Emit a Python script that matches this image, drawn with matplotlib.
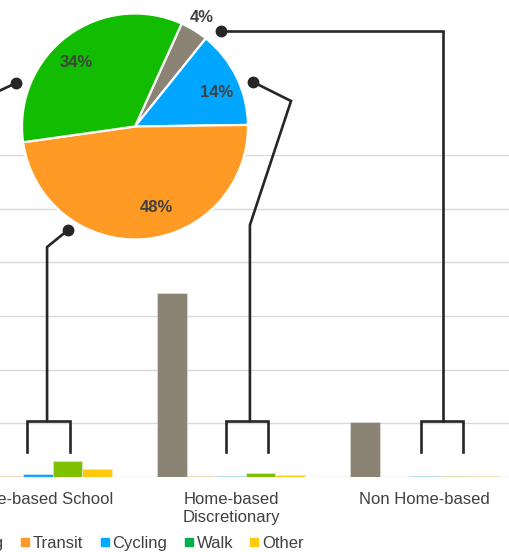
import matplotlib
matplotlib.use('Agg')
import matplotlib.pyplot as plt
from matplotlib.lines import Line2D
import numpy as np

plt.rcParams['font.family'] = ['Liberation Sans', 'DejaVu Sans']

# ---------------- data ----------------
categories = ["Home-based School", "Home-based\nDiscretionary", "Non Home-based"]
modes = ["Driving", "Transit", "Cycling", "Walk", "Other"]
driving = [20.0, 34.3, 10.2]
transit = [0.2, 0.15, 0.0]
cycling = [0.55, 0.15, 0.12]
walk = [2.9, 0.8, 0.12]
other = [1.45, 0.3, 0.12]

pie_modes = ["Driving", "Cycling", "Transit", "Walk"]
pie_shares = [4, 14, 48, 34]

# ---------------- styles ----------------
bar_colors = {"Driving": "#8B8374", "Transit": "#FF9A2A", "Cycling": "#00AAFF",
              "Walk": "#7DC100", "Other": "#FFC90E"}
legend_colors = {"Driving": "#8B8374", "Transit": "#FF9A2A", "Cycling": "#00AAFF",
                 "Walk": "#00B050", "Other": "#FFC90E"}
pie_colors = {"Driving": "#8B8374", "Cycling": "#00A6FF", "Transit": "#FF9A25",
              "Walk": "#12BC00"}
text_color = "#404040"
line_color = "#262626"
grid_color = "#D9D9D9"

W, H = 509, 552
fig = plt.figure(figsize=(W / 100, H / 100), dpi=100)

# ---------------- bar chart ----------------
ax = fig.add_axes([0, 75 / H, 1, 322 / H])
ax.set_xlim(-38 / 193, 471 / 193)
ax.set_ylim(0, 60)
x = np.arange(len(categories))
w = 29.5 / 193
series = [driving, transit, cycling, walk, other]
for k, (m, vals) in enumerate(zip(modes, series)):
    ax.bar(x + (k - 2) * w, vals, width=w, color=bar_colors[m],
           edgecolor="#E8E6E2", linewidth=0.4, zorder=3)

ax.set_yticks(np.arange(0, 61, 10))
ax.yaxis.grid(True, color=grid_color, linewidth=1.0, zorder=0)
ax.tick_params(axis='y', left=False, labelleft=False)
ax.set_xticks(x)
ax.set_xticklabels(categories, fontsize=12, color=text_color, linespacing=1.3)
ax.tick_params(axis='x', length=0, pad=10.5)
for s in ax.spines.values():
    s.set_visible(False)

# ---------------- connectors (bar data coordinates) ----------------
lw = 1.9
leg_bottom, bar_top = 4.66, 10.43
connectors = [
    # (path from pie dot to stem, bracket left, bracket right)
    ([(-0.114, 73.4), (-0.30, 70.3)], None, None),
    ([(0.155, 46.0), (0.047, 42.85), (0.047, bar_top)], -0.057, 0.166),
    ([(1.114, 73.6), (1.311, 70.06), (1.098, 46.95), (1.098, bar_top)], 0.974, 1.192),
    ([(0.948, 83.1), (2.098, 83.1), (2.098, bar_top)], 1.984, 2.202),
]
for path, bl, br in connectors:
    px, py = zip(*path)
    ax.plot(px, py, color=line_color, lw=lw, clip_on=False, zorder=5,
            solid_joinstyle='miter')
    ax.plot([px[0]], [py[0]], 'o', color=line_color, ms=7.5, clip_on=False, zorder=6)
    if bl is not None:
        ax.plot([bl, bl, br, br], [leg_bottom, bar_top, bar_top, leg_bottom],
                color=line_color, lw=lw, clip_on=False, zorder=5,
                solid_joinstyle='miter')

# ---------------- pie ----------------
R = 113
cx, cy = 135, 126.5
side = 2.5 * R
axp = fig.add_axes([(cx - side / 2) / W, (H - cy - side / 2) / H, side / W, side / H])
wedges, _ = axp.pie(pie_shares, colors=[pie_colors[m] for m in pie_modes],
                    startangle=65.6, counterclock=False,
                    wedgeprops=dict(edgecolor='white', linewidth=1.6))
axp.set_xlim(-1.25, 1.25)
axp.set_ylim(-1.25, 1.25)
axp.set_aspect('equal')
axp.axis('off')

lab_r = [1.13, 0.78, 0.74, 0.77]
lab_dang = [0, -3, 10.5, 6]
for wdg, v, r, da in zip(wedges, pie_shares, lab_r, lab_dang):
    ang = np.deg2rad((wdg.theta1 + wdg.theta2) / 2 + da)
    axp.text(r * np.cos(ang), r * np.sin(ang), f"{v}%", ha='center', va='center',
             fontsize=12, fontweight='bold', color=text_color, clip_on=False)

# ---------------- legend ----------------
handles = [Line2D([], [], marker='s', linestyle='none', markersize=6,
                  color=legend_colors[m]) for m in modes]
fig.legend(handles, modes, loc='center', bbox_to_anchor=(121.5 / W, 1 - 543.5 / H),
           ncol=5, frameon=False, fontsize=12, handlelength=0.55,
           handletextpad=0.2, columnspacing=1.0, borderpad=0, borderaxespad=0,
           labelcolor=text_color)

fig.savefig("out.png", dpi=100)
